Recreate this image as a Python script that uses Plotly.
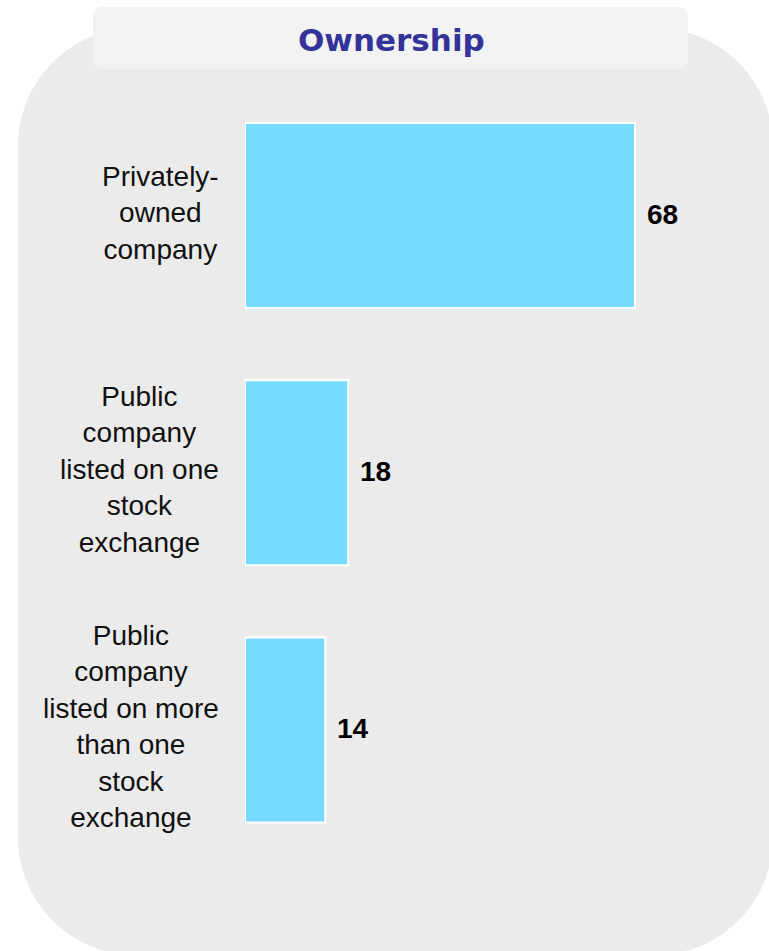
import plotly.graph_objects as go

# ---- data ----
categories = [
    "Privately-<br>owned<br>company",
    "Public<br>company<br>listed on one<br>stock<br>exchange",
    "Public<br>company<br>listed on more<br>than one<br>stock<br>exchange",
]
values = [68, 18, 14]
title_text = "Ownership"

# ---- layout constants (pixels) ----
W, H = 769, 951
BAR_COLOR = "#77DBFF"
TITLE_COLOR = "#333399"


def px(x):
    return x / W


def py(y):
    return 1 - y / H


def rounded_rect_path(x0, y0, x1, y1, r):
    k = 0.5523 * r
    pts = []
    pts.append(f"M{px(x0 + r)},{py(y0)}")
    pts.append(f"L{px(x1 - r)},{py(y0)}")
    pts.append(f"C{px(x1 - r + k)},{py(y0)} {px(x1)},{py(y0 + r - k)} {px(x1)},{py(y0 + r)}")
    pts.append(f"L{px(x1)},{py(y1 - r)}")
    pts.append(f"C{px(x1)},{py(y1 - r + k)} {px(x1 - r + k)},{py(y1)} {px(x1 - r)},{py(y1)}")
    pts.append(f"L{px(x0 + r)},{py(y1)}")
    pts.append(f"C{px(x0 + r - k)},{py(y1)} {px(x0)},{py(y1 - r + k)} {px(x0)},{py(y1 - r)}")
    pts.append(f"L{px(x0)},{py(y0 + r)}")
    pts.append(f"C{px(x0)},{py(y0 + r - k)} {px(x0 + r - k)},{py(y0)} {px(x0 + r)},{py(y0)}")
    pts.append("Z")
    return " ".join(pts)


fig = go.Figure(
    go.Bar(
        x=values,
        y=categories,
        orientation="h",
        width=0.72,
        marker=dict(color=BAR_COLOR, line=dict(color="white", width=2)),
        hoverinfo="skip",
    )
)

# axis geometry: 0 at x=245px, 68 at x=635px
scale = (635 - 245) / 68.0
x_dom = [245 / W, 765 / W]
x_max = (765 - 245) / scale

y_top_px, y_bot_px = 86.9, 858.6

annotations = []
for cat, v in zip(categories, values):
    annotations.append(dict(
        x=px(221), xref="paper", y=cat, yref="y",
        text=cat, showarrow=False, xanchor="right", yanchor="middle",
        align="center", yshift=3,
        font=dict(family="Liberation Sans, Arial, sans-serif", size=28, color="#111111"),
    ))
    annotations.append(dict(
        x=v, xref="x", y=cat, yref="y",
        text=f"<b>{v}</b>", showarrow=False, xanchor="left", yanchor="middle",
        xshift=10, yshift=1,
        font=dict(family="Liberation Sans, Arial, sans-serif", size=28, color="#000000"),
    ))

annotations.append(dict(
    x=px(391), xref="paper", y=py(40), yref="paper",
    text=f"<b>{title_text}</b>", showarrow=False, xanchor="center", yanchor="middle",
    font=dict(family="DejaVu Sans, sans-serif", size=31, color=TITLE_COLOR),
))

shapes = [
    dict(type="path", xref="paper", yref="paper",
         path=rounded_rect_path(18, 28, 773, 955, 118),
         fillcolor="#ebebeb", line=dict(width=0), layer="below"),
    dict(type="path", xref="paper", yref="paper",
         path=rounded_rect_path(93, 7, 688, 69, 9),
         fillcolor="#f2f2f2", line=dict(width=0), layer="below"),
]

fig.update_layout(
    width=W, height=H,
    margin=dict(l=0, r=0, t=0, b=0),
    paper_bgcolor="white",
    plot_bgcolor="rgba(0,0,0,0)",
    showlegend=False,
    xaxis=dict(domain=x_dom, range=[0, x_max], visible=False, fixedrange=True),
    yaxis=dict(domain=[1 - y_bot_px / H, 1 - y_top_px / H],
               type="category", categoryorder="array", categoryarray=categories,
               range=[2.5, -0.5], visible=False, fixedrange=True),
    shapes=shapes,
    annotations=annotations,
    bargap=0.28,
)

fig.write_html(
    "out.html",
    config={"displayModeBar": False},
    post_script="document.body.style.margin='0px';document.body.style.overflow='hidden';",
)
